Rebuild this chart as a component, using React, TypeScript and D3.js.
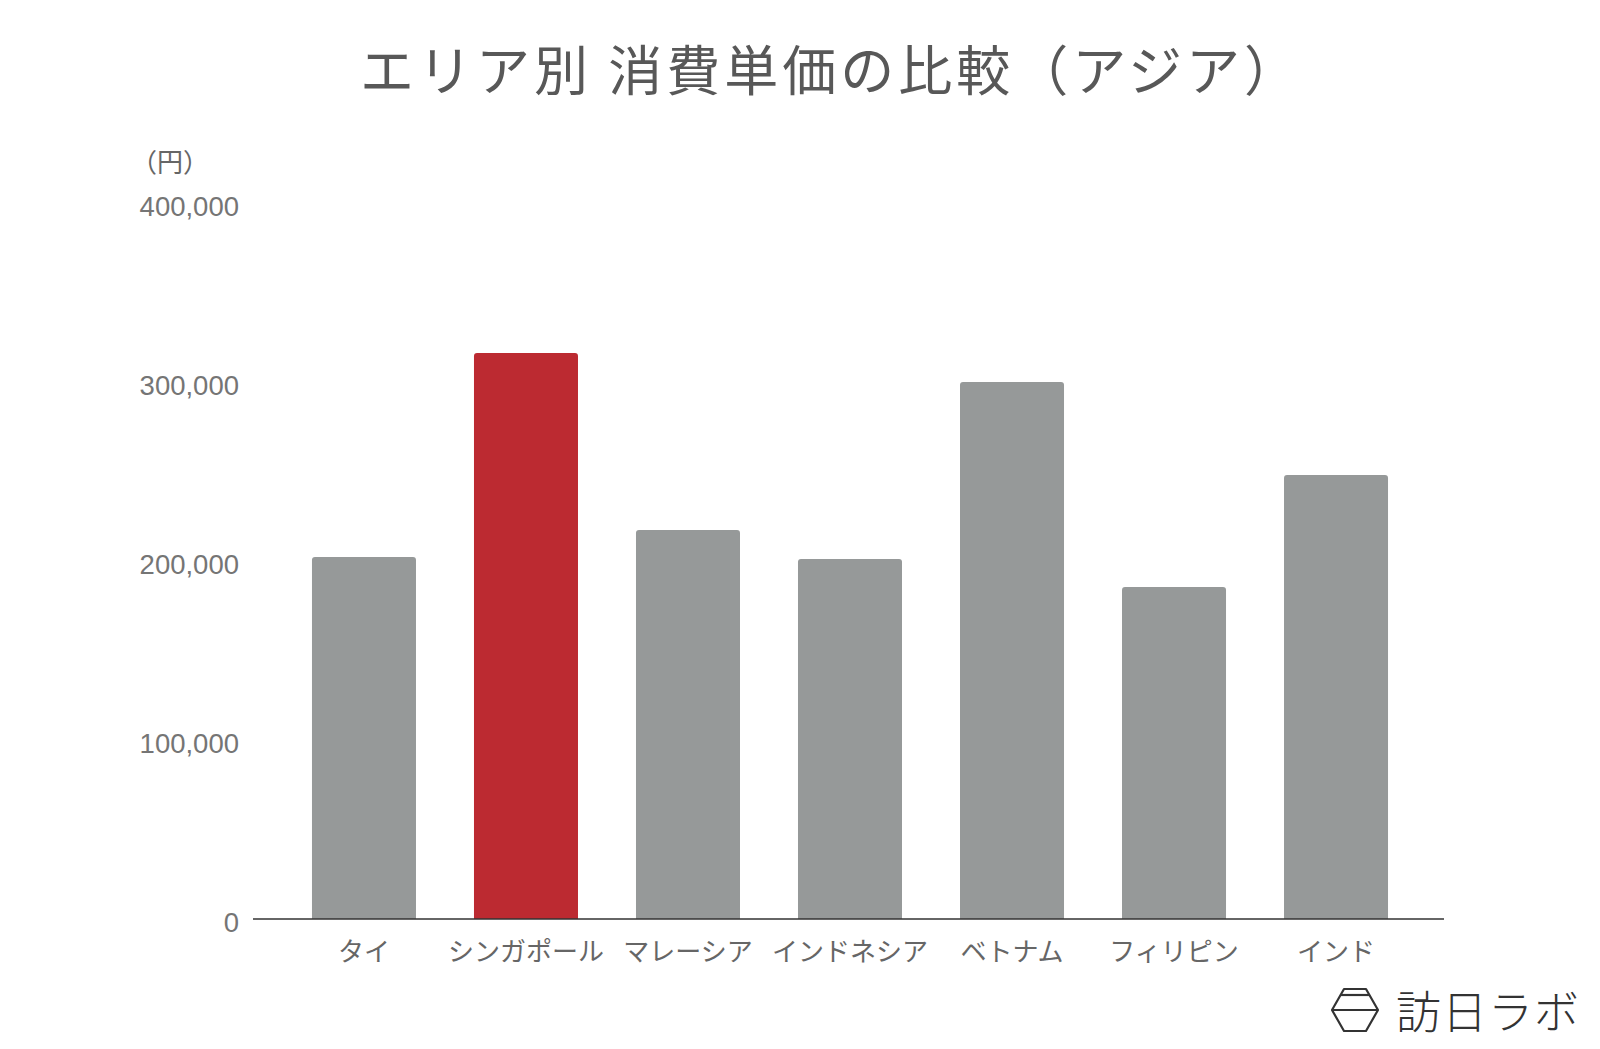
import React from "react";
import * as d3 from "d3";

const categories = ["タイ", "シンガポール", "マレーシア", "インドネシア", "ベトナム", "フィリピン", "インド"];
const values = [202200, 316200, 217300, 201100, 300000, 185500, 248000];
const highlight = ["シンガポール"];
const yTicks = [0, 100000, 200000, 300000, 400000];
const title = "エリア別 消費単価の比較（アジア）";
const unitLabel = "（円）";
const logoText = "訪日ラボ";

const W = 1600;
const H = 1049;

function topRoundedRect(x: number, y: number, w: number, h: number, r: number) {
  const p = d3.path();
  p.moveTo(x, y + h);
  p.lineTo(x, y + r);
  p.arcTo(x, y, x + r, y, r);
  p.lineTo(x + w - r, y);
  p.arcTo(x + w, y, x + w, y + r, r);
  p.lineTo(x + w, y + h);
  p.closePath();
  return p.toString();
}

export default function App() {
  const x = d3.scaleBand<string>().domain(categories).range([256, 1444]).paddingInner(0.358).paddingOuter(0.3455);
  const y = d3.scaleLinear().domain([0, 400000]).range([919, 203]);
  const fmt = d3.format(",");
  const jp = "'Noto Sans CJK JP', 'Noto Sans', sans-serif";
  const num = "'Liberation Sans', Arial, sans-serif";

  return (
    <svg width={W} height={H} style={{ position: "absolute", left: 0, top: 0, background: "#fff" }}>
      <rect x={0} y={0} width={W} height={H} fill="#fff" />
      <text x={831} y={67} textAnchor="middle" dominantBaseline="central" fontFamily={jp} fontSize={54} fill="#585858" letterSpacing={4}>
        {title}
      </text>
      <text x={170} y={160} textAnchor="middle" dominantBaseline="central" fontFamily={jp} fontSize={26} fill="#666">
        {unitLabel}
      </text>
      {yTicks.map((t) => (
        <text key={t} x={239} y={y(t) + 3} textAnchor="end" dominantBaseline="central" fontFamily={num} fontSize={27.5} fill="#757575">
          {fmt(t)}
        </text>
      ))}
      {categories.map((c, i) => {
        const bx = x(c)!;
        const by = y(values[i]);
        return (
          <path
            key={c}
            d={topRoundedRect(bx, by, x.bandwidth(), y(0) - by, 3)}
            fill={highlight.includes(c) ? "#bc2a31" : "#969999"}
          />
        );
      })}
      <line x1={253} x2={1444} y1={y(0)} y2={y(0)} stroke="#333" strokeWidth={1.6} />
      {categories.map((c) => (
        <text key={c} x={x(c)! + x.bandwidth() / 2} y={949} textAnchor="middle" dominantBaseline="central" fontFamily={jp} fontSize={26} fill="#666">
          {c}
        </text>
      ))}
      <g stroke="#333" strokeWidth={2.2} fill="none" strokeLinejoin="round">
        <path d="M1344,989 L1366,989 L1378,1010 L1366,1031 L1344,1031 L1332,1010 Z" />
        <line x1={1341} x2={1369} y1={995} y2={995} />
        <line x1={1332} x2={1378} y1={1010} y2={1010} />
      </g>
      <text x={1396} y={1009} dominantBaseline="central" fontFamily={jp} fontWeight={300} fontSize={45} fill="#333" letterSpacing={1}>
        {logoText}
      </text>
    </svg>
  );
}
